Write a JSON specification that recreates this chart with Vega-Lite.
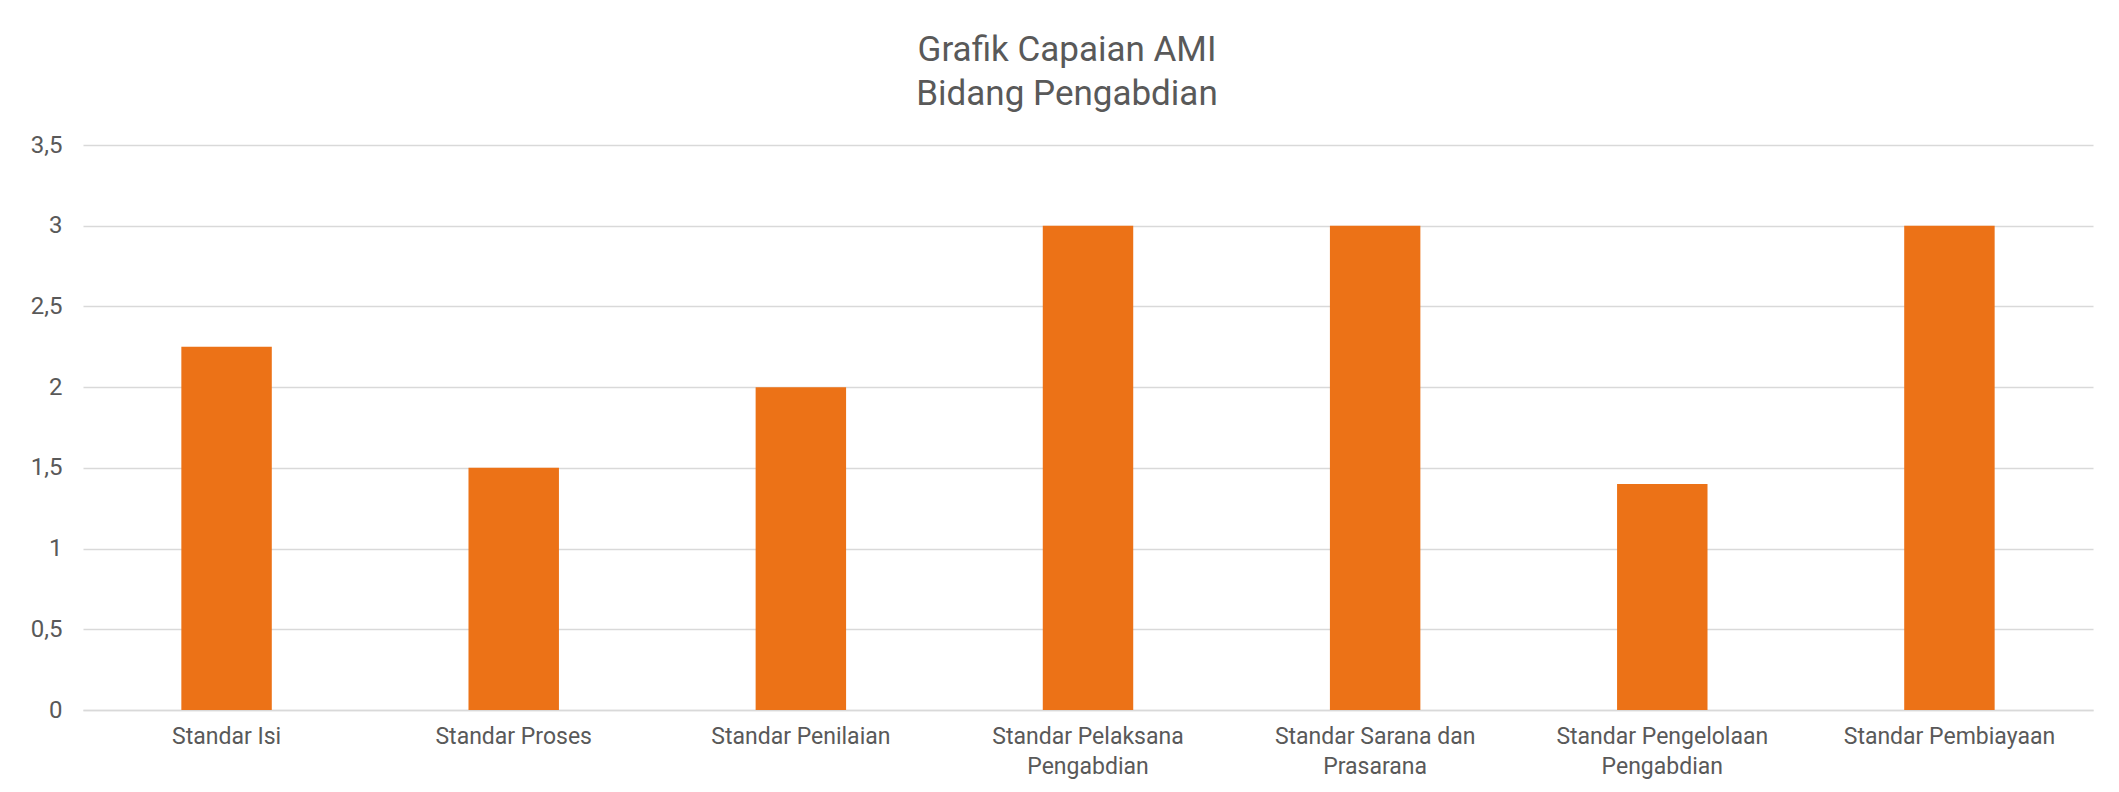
{
  "$schema": "https://vega.github.io/schema/vega-lite/v6.json",
  "autosize": "none",
  "width": 2010,
  "height": 565,
  "padding": {"left": 83, "top": 145, "right": 26, "bottom": 82},
  "background": "white",
  "title": {
    "text": ["Grafik Capaian AMI", "Bidang Pengabdian"],
    "font": "Roboto",
    "fontSize": 35,
    "fontWeight": "normal",
    "color": "#595959",
    "lineHeight": 44,
    "anchor": "middle",
    "dx": -21,
    "offset": 21
  },
  "data": {
    "values": [
      {"standar": "Standar Isi", "nilai": 2.25},
      {"standar": "Standar Proses", "nilai": 1.5},
      {"standar": "Standar Penilaian", "nilai": 2},
      {"standar": "Standar Pelaksana Pengabdian", "nilai": 3},
      {"standar": "Standar Sarana dan Prasarana", "nilai": 3},
      {"standar": "Standar Pengelolaan Pengabdian", "nilai": 1.4},
      {"standar": "Standar Pembiayaan", "nilai": 3}
    ]
  },
  "mark": {"type": "bar", "color": "#EC7217"},
  "encoding": {
    "x": {
      "field": "standar",
      "type": "nominal",
      "sort": null,
      "title": null,
      "scale": {"paddingInner": 0.685, "paddingOuter": 0.3425},
      "axis": {
        "labelAngle": 0,
        "labelFont": "Roboto",
        "labelFontSize": 23,
        "labelColor": "#595959",
        "labelLineHeight": 30,
        "labelPadding": 15,
        "labelLimit": 0,
        "ticks": false,
        "domainColor": "#d9d9d9",
        "domainWidth": 1.5,
        "labelExpr": "length(datum.label) > 20 ? [substring(datum.label, 0, lastindexof(datum.label, ' ')), substring(datum.label, lastindexof(datum.label, ' ') + 1)] : datum.label"
      }
    },
    "y": {
      "field": "nilai",
      "type": "quantitative",
      "title": null,
      "scale": {"domain": [0, 3.5], "nice": false},
      "axis": {
        "values": [0, 0.5, 1, 1.5, 2, 2.5, 3, 3.5],
        "labelExpr": "replace(format(datum.value, '~g'), '.', ',')",
        "labelFont": "Roboto",
        "labelFontSize": 24,
        "labelColor": "#595959",
        "labelPadding": 21,
        "ticks": false,
        "domain": false,
        "gridColor": "#d9d9d9",
        "gridWidth": 1.3
      }
    }
  },
  "config": {"view": {"stroke": null}}
}
